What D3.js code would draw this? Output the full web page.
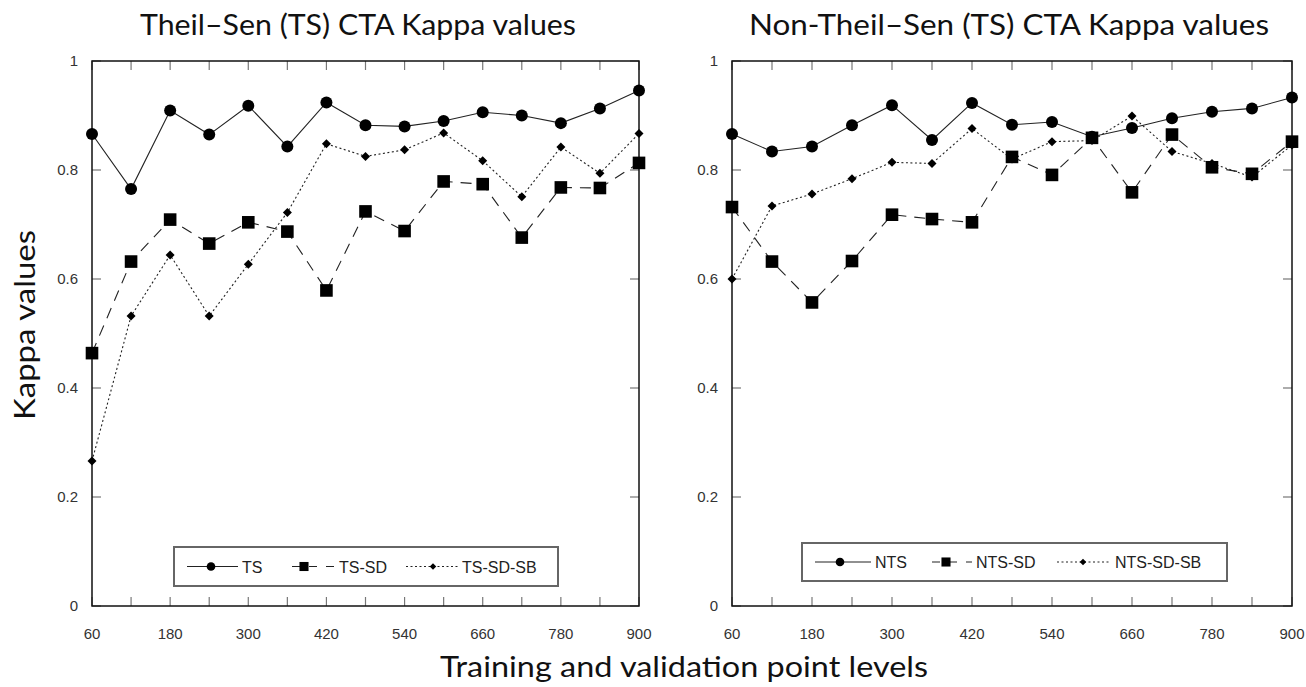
<!DOCTYPE html>
<html lang="en">
<head>
    <meta charset="UTF-8">
    <title>CTA Kappa values</title>
    <script src="https://d3js.org/d3.v7.min.js"></script>
    <style>
        body {
            margin: 0;
            background: #fff;
        }

        .title {
            font-family: Lato, "Open Sans", sans-serif;
            font-size: 29px;
            fill: #111;
        }

        .tick-label {
            font-family: "Liberation Sans", Arial, sans-serif;
            font-size: 15px;
            fill: #333;
        }

        .legend-text {
            font-family: "Liberation Sans", Arial, sans-serif;
            font-size: 16px;
            fill: #222;
        }

        .frame {
            fill: none;
            stroke: #111;
            stroke-width: 1.5px;
        }

        .series {
            fill: none;
            stroke: #222;
            stroke-width: 1.1px;
        }
    </style>
</head>
<body>
    <div id="chart"></div>

    <script>
        // x levels (training / validation points)
        const levels = [60, 120, 180, 240, 300, 360, 420, 480, 540, 600, 660, 720, 780, 840, 900];
        const xTickLabels = [60, 180, 300, 420, 540, 660, 780, 900];
        const yTickLabels = [0, 0.2, 0.4, 0.6, 0.8, 1];

        // Theil-Sen panel
        const ts = [0.866, 0.765, 0.909, 0.865, 0.918, 0.843, 0.924, 0.882, 0.880, 0.890, 0.906, 0.900, 0.886, 0.913, 0.946];
        const tsSd = [0.464, 0.632, 0.709, 0.665, 0.704, 0.687, 0.579, 0.724, 0.688, 0.779, 0.774, 0.676, 0.768, 0.767, 0.813];
        const tsSdSb = [0.266, 0.532, 0.644, 0.532, 0.627, 0.722, 0.848, 0.825, 0.837, 0.868, 0.817, 0.751, 0.842, 0.794, 0.867];

        // Non-Theil-Sen panel
        const nts = [0.866, 0.834, 0.843, 0.882, 0.919, 0.855, 0.923, 0.883, 0.888, 0.861, 0.877, 0.895, 0.907, 0.913, 0.933];
        const ntsSd = [0.732, 0.632, 0.557, 0.633, 0.718, 0.710, 0.704, 0.824, 0.791, 0.859, 0.759, 0.865, 0.805, 0.793, 0.852];
        const ntsSdSb = [0.600, 0.734, 0.756, 0.784, 0.814, 0.812, 0.876, 0.820, 0.852, 0.854, 0.899, 0.834, 0.812, 0.787, 0.846];

        const W = 1306, H = 687;

        const svg = d3.select("#chart")
            .append("svg")
            .attr("width", W)
            .attr("height", H);

        // line style + marker per series kind
        const styles = {
            solid:  { dash: null,    legendDash: null,  marker: "circle" },
            dashed: { dash: "11,8",  legendDash: "8,9", marker: "square" },
            dotted: { dash: "2,2.5", legendDash: "2,2.5", marker: "diamond" }
        };

        function drawMarker(g, kind, x, y, s) {
            if (kind === "circle") {
                g.append("circle").attr("cx", x).attr("cy", y).attr("r", 6 * s).attr("fill", "#000");
            } else if (kind === "square") {
                g.append("rect").attr("x", x - 6.3 * s).attr("y", y - 6.3 * s)
                    .attr("width", 12.6 * s).attr("height", 12.6 * s).attr("fill", "#000");
            } else {
                const r = 4.5 * s;
                g.append("path")
                    .attr("d", `M${x},${y - r}L${x + r},${y}L${x},${y + r}L${x - r},${y}Z`)
                    .attr("fill", "#000");
            }
        }

        function drawPanel(opts) {
            const { left, right, top, bottom, title, titleX, titleLen, series, legend } = opts;

            const x = d3.scaleLinear().domain([60, 900]).range([left, right]);
            const y = d3.scaleLinear().domain([0, 1]).range([bottom, top]);

            const g = svg.append("g");

            // title
            g.append("text")
                .attr("class", "title")
                .attr("x", titleX)
                .attr("y", 35)
                .attr("text-anchor", "middle")
                .attr("textLength", titleLen)
                .attr("lengthAdjust", "spacingAndGlyphs")
                .text(title);

            // tick marks (inward, on all four sides)
            const tickG = g.append("g").attr("stroke", "#777").attr("stroke-width", 1.2);
            levels.forEach(v => {
                tickG.append("line").attr("x1", x(v)).attr("x2", x(v)).attr("y1", bottom).attr("y2", bottom - 9);
                tickG.append("line").attr("x1", x(v)).attr("x2", x(v)).attr("y1", top).attr("y2", top + 9);
            });
            yTickLabels.forEach(v => {
                tickG.append("line").attr("x1", left).attr("x2", left + 9).attr("y1", y(v)).attr("y2", y(v));
                tickG.append("line").attr("x1", right).attr("x2", right - 9).attr("y1", y(v)).attr("y2", y(v));
            });

            // tick labels
            xTickLabels.forEach(v => {
                g.append("text")
                    .attr("class", "tick-label")
                    .attr("x", x(v))
                    .attr("y", bottom + 33)
                    .attr("text-anchor", "middle")
                    .text(v);
            });
            yTickLabels.forEach(v => {
                g.append("text")
                    .attr("class", "tick-label")
                    .attr("x", left - 14)
                    .attr("y", y(v) + 5)
                    .attr("text-anchor", "end")
                    .text(d3.format("~g")(v));
            });

            // frame
            g.append("rect")
                .attr("class", "frame")
                .attr("x", left).attr("y", top)
                .attr("width", right - left).attr("height", bottom - top);

            // series lines + markers
            const line = d3.line()
                .x((d, i) => x(levels[i]))
                .y(d => y(d));

            series.forEach(s => {
                const st = styles[s.style];
                g.append("path")
                    .datum(s.values)
                    .attr("class", "series")
                    .attr("stroke-dasharray", st.dash)
                    .attr("d", line);
            });
            series.forEach(s => {
                const st = styles[s.style];
                const mg = g.append("g");
                s.values.forEach((v, i) => drawMarker(mg, st.marker, x(levels[i]), y(v), 1));
            });

            // legend box
            const lg = g.append("g");
            lg.append("rect")
                .attr("x", legend.x).attr("y", legend.y)
                .attr("width", legend.w).attr("height", legend.h)
                .attr("fill", "#fff")
                .attr("stroke", "#666")
                .attr("stroke-width", 2);

            const cy = legend.y + legend.h / 2;
            legend.items.forEach((it, i) => {
                const st = styles[series[i].style];
                lg.append("line")
                    .attr("class", "series")
                    .attr("x1", it.x0).attr("x2", it.x1)
                    .attr("y1", cy).attr("y2", cy)
                    .attr("stroke-dasharray", st.legendDash);
                drawMarker(lg, st.marker, it.m, cy, 0.72);
                lg.append("text")
                    .attr("class", "legend-text")
                    .attr("x", it.x1 + 4)
                    .attr("y", cy + 6)
                    .text(series[i].name);
            });
        }

        drawPanel({
            left: 92, right: 639, top: 61, bottom: 606,
            title: "Theil\u2013Sen (TS) CTA Kappa values", titleX: 358, titleLen: 436,
            series: [
                { name: "TS", values: ts, style: "solid" },
                { name: "TS-SD", values: tsSd, style: "dashed" },
                { name: "TS-SD-SB", values: tsSdSb, style: "dotted" }
            ],
            legend: {
                x: 174, y: 547, w: 384, h: 39,
                items: [{ x0: 187, x1: 238, m: 211 }, { x0: 292, x1: 335, m: 304 }, { x0: 406, x1: 458, m: 433 }]
            }
        });

        drawPanel({
            left: 732, right: 1292, top: 61, bottom: 606,
            title: "Non-Theil\u2013Sen (TS) CTA Kappa values", titleX: 1009, titleLen: 520,
            series: [
                { name: "NTS", values: nts, style: "solid" },
                { name: "NTS-SD", values: ntsSd, style: "dashed" },
                { name: "NTS-SD-SB", values: ntsSdSb, style: "dotted" }
            ],
            legend: {
                x: 802, y: 543, w: 425, h: 38,
                items: [{ x0: 815, x1: 871, m: 840 }, { x0: 932, x1: 972, m: 946 }, { x0: 1057, x1: 1111, m: 1083 }]
            }
        });

        // shared axis titles
        svg.append("text")
            .attr("class", "title")
            .attr("transform", "translate(35,325) rotate(-90)")
            .attr("text-anchor", "middle")
            .attr("textLength", 190)
            .attr("lengthAdjust", "spacingAndGlyphs")
            .text("Kappa values");

        svg.append("text")
            .attr("class", "title")
            .attr("x", 684)
            .attr("y", 677)
            .attr("text-anchor", "middle")
            .attr("textLength", 488)
            .attr("lengthAdjust", "spacingAndGlyphs")
            .text("Training and validation point levels");
    </script>
</body>
</html>
